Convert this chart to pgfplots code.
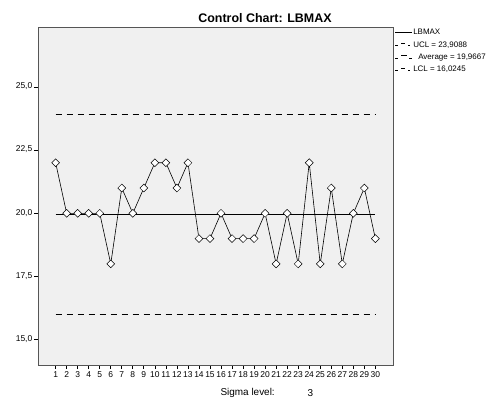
\documentclass[border=0pt]{standalone}
\usepackage{pgfplots}
\pgfplotsset{compat=1.18}
\usepackage{fontspec}
\setmainfont{Liberation Sans}
\definecolor{plotbg}{HTML}{F0F0F0}
\definecolor{frame}{HTML}{555555}
\begin{document}
\begin{tikzpicture}
\path (0,0) rectangle (489bp,403bp);
\begin{axis}[
  at={(38bp,38bp)}, anchor=south west,
  width=355bp, height=338bp, scale only axis,
  xmin=-0.6, xmax=31.6, ymin=14.0, ymax=27.37,
  axis background/.style={fill=plotbg},
  axis line style={frame, line width=0.9pt},
  xtick={1,...,30}, ytick={15,17.5,20,22.5,25},
  xtick pos=bottom, ytick pos=left,
  tick align=outside, tick style={black, line width=0.7pt},
  major tick length=4bp,
  /pgf/number format/assume math mode=true,
  typeset ticklabels with strut,
  ticklabel style={font=\fontsize{8.5}{9}\selectfont},
  xticklabel style={inner sep=1.8pt},
  yticklabel style={inner sep=1.5pt, /pgf/number format/.cd, fixed, fixed zerofill, precision=1, use comma},
  clip=false,
  legend style={at={(1.0056,0.997)}, anchor=north west, draw=none, fill=none,
    font=\fontsize{8}{9}\selectfont, row sep=3.8bp, inner sep=0pt,
    nodes={inner sep=0.5bp, text height=6bp, text depth=1.5bp},
    legend cell align=left},
]
\addplot[black, line width=0.6pt, mark=square*, mark size=2.8pt,
  mark options={fill=white, draw=black, line width=0.5pt, rotate=45},
  legend image code/.code={\draw[black, line width=0.6pt] (0bp,0bp) -- (17bp,0bp);}] coordinates {
(1,22)(2,20)(3,20)(4,20)(5,20)(6,18)(7,21)(8,20)(9,21)(10,22)
(11,22)(12,21)(13,22)(14,19)(15,19)(16,20)(17,19)(18,19)(19,19)(20,20)
(21,18)(22,20)(23,18)(24,22)(25,18)(26,21)(27,18)(28,20)(29,21)(30,19)};
\addlegendentry{LBMAX}
\addplot[black, line width=0.6pt, dash pattern=on 6bp off 5bp,
  legend image code/.code={\draw[black, line width=0.6pt] (0bp,-1bp) -- (3bp,-1bp) (6bp,1.5bp) -- (10bp,1.5bp) (13bp,-1bp) -- (15bp,-1bp);}] coordinates {(1,23.9088)(30,23.9088)};
\addlegendentry{UCL = 23,9088}
\addplot[black, line width=0.6pt,
  legend image code/.code={\draw[black, line width=0.6pt] (0bp,-1bp) -- (3bp,-1bp) (6bp,1.5bp) -- (12bp,1.5bp) (14bp,-1bp) -- (17bp,-1bp);}] coordinates {(1,19.9667)(30,19.9667)};
\addlegendentry{\hspace{5bp}Average = 19,9667}
\addplot[black, line width=0.6pt, dash pattern=on 6bp off 5bp,
  legend image code/.code={\draw[black, line width=0.6pt] (0bp,-1bp) -- (3bp,-1bp) (6bp,1.5bp) -- (10bp,1.5bp) (13bp,-1bp) -- (15bp,-1bp);}] coordinates {(1,16.0245)(30,16.0245)};
\addlegendentry{LCL = 16,0245}
\end{axis}
\node[font=\bfseries\fontsize{12.5}{14}\selectfont] at (265bp,385bp) {Control Chart: LBMAX};
\node[font=\fontsize{10}{11}\selectfont, anchor=west] at (217bp,10bp) {Sigma level:};
\node[font=\fontsize{10}{11}\selectfont] at (310.5bp,10bp) {3};
\end{tikzpicture}
\end{document}
